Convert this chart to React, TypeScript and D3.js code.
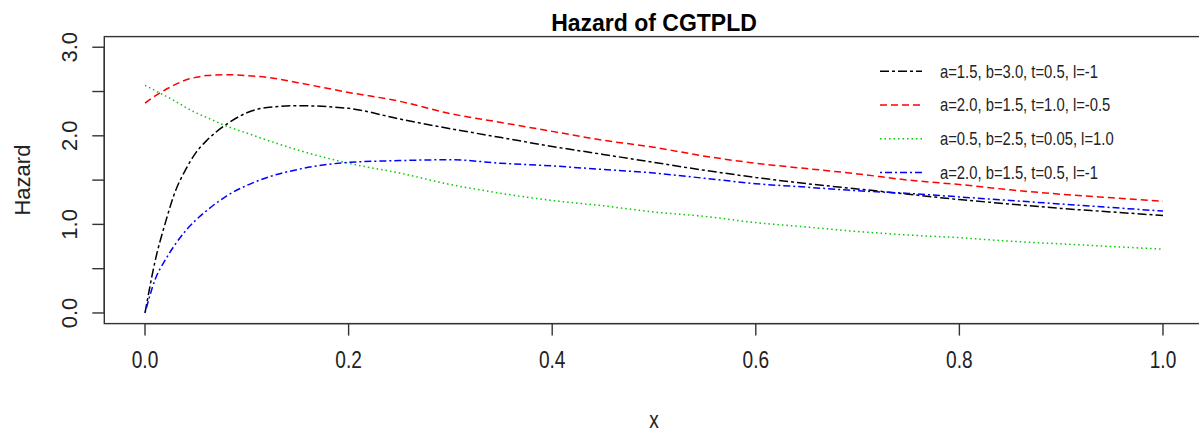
import * as d3 from "d3";
import React from "react";

// hazard curves
const xs = [0, 0.01, 0.02, 0.03, 0.04, 0.05, 0.06, 0.08, 0.1, 0.12, 0.15, 0.2, 0.25, 0.3, 0.35, 0.4, 0.45, 0.5, 0.55, 0.6, 0.65, 0.7, 0.75, 0.8, 0.85, 0.9, 0.95, 1.0];
const blackVals = [0, 0.59, 1.02, 1.38, 1.62, 1.81, 1.94, 2.13, 2.26, 2.32, 2.34, 2.31, 2.19, 2.08, 1.98, 1.88, 1.79, 1.7, 1.61, 1.53, 1.46, 1.4, 1.34, 1.28, 1.23, 1.18, 1.14, 1.1];
const redVals = [2.37, 2.45, 2.52, 2.58, 2.63, 2.66, 2.68, 2.69, 2.68, 2.66, 2.6, 2.49, 2.39, 2.25, 2.15, 2.05, 1.95, 1.87, 1.77, 1.69, 1.63, 1.57, 1.5, 1.45, 1.39, 1.34, 1.3, 1.26];
const greenVals = [2.57, 2.51, 2.45, 2.39, 2.32, 2.26, 2.21, 2.11, 2.03, 1.95, 1.84, 1.69, 1.58, 1.45, 1.35, 1.27, 1.21, 1.14, 1.09, 1.02, 0.97, 0.92, 0.88, 0.85, 0.81, 0.78, 0.75, 0.72];
const blueVals = [0, 0.38, 0.6, 0.78, 0.93, 1.05, 1.15, 1.32, 1.44, 1.53, 1.62, 1.7, 1.72, 1.73, 1.69, 1.66, 1.62, 1.58, 1.52, 1.46, 1.42, 1.38, 1.35, 1.31, 1.27, 1.23, 1.19, 1.15];

const seriesLabels = [
  "a=1.5, b=3.0, t=0.5, l=-1",
  "a=2.0, b=1.5, t=1.0, l=-0.5",
  "a=0.5, b=2.5, t=0.05, l=1.0",
  "a=2.0, b=1.5, t=0.5, l=-1",
];
const seriesColors = ["#000000", "#ff0000", "#00cc00", "#0000ff"];
const seriesDash = ["9,3,3,3", "7,4", "1.5,3", "2,3,7,3"];

const xTicks = [0, 0.2, 0.4, 0.6, 0.8, 1.0];
const yTicks = [0, 0.5, 1, 1.5, 2, 2.5, 3];
const yLabelTicks = [0, 1, 2, 3];

export default function App() {
  const width = 1199;
  const height = 432;
  // R style: 4% padding on both axes
  const x = d3.scaleLinear().domain([-0.04, 1.04]).range([104.3, 1203.7]);
  const y = d3.scaleLinear().domain([-0.12, 3.12]).range([323.6, 36.6]);

  const all = [blackVals, redVals, greenVals, blueVals];
  const line = d3.line<number>()
    .x((_, i) => x(xs[i]))
    .y(d => y(d))
    .curve(d3.curveMonotoneX);

  const font = "'Liberation Sans', Arial, sans-serif";
  const axisColor = "#333";
  const plotTop = y(3.12);
  const plotBottom = y(-0.12);
  const plotLeft = x(-0.04);

  return (
    <svg width={width} height={height} style={{ position: "absolute", left: 0, top: 0, background: "#fff" }} fontFamily={font}>
      {/* box */}
      <rect x={plotLeft} y={plotTop} width={x(1.04) - plotLeft} height={plotBottom - plotTop}
        fill="none" stroke={axisColor} strokeWidth={1.4} />

      {/* curves */}
      {all.map((vals, k) => (
        <path key={k} d={line(vals) || ""} fill="none" stroke={seriesColors[k]}
          strokeWidth={1.5} strokeDasharray={seriesDash[k]} />
      ))}

      {/* x axis */}
      <line x1={x(0)} x2={x(1)} y1={plotBottom} y2={plotBottom} stroke={axisColor} strokeWidth={1.4} />
      {xTicks.map(t => (
        <g key={t}>
          <line x1={x(t)} x2={x(t)} y1={plotBottom} y2={plotBottom + 12} stroke={axisColor} strokeWidth={1.4} />
          <text transform={`translate(${x(t)},${368}) scale(0.83,1)`} textAnchor="middle" fontSize={23} fill="#222">
            {t.toFixed(1)}
          </text>
        </g>
      ))}

      {/* y axis */}
      <line x1={plotLeft} x2={plotLeft} y1={y(0)} y2={y(3)} stroke={axisColor} strokeWidth={1.4} />
      {yTicks.map(t => (
        <line key={t} x1={plotLeft - 12} x2={plotLeft} y1={y(t)} y2={y(t)} stroke={axisColor} strokeWidth={1.4} />
      ))}
      {yLabelTicks.map(t => (
        <text key={t} transform={`translate(${77},${y(t)}) rotate(-90)`} textAnchor="middle" fontSize={22} fill="#222">
          {t.toFixed(1)}
        </text>
      ))}

      {/* axis titles */}
      <text transform={`translate(${(plotLeft + x(1.04)) / 2},${428}) scale(0.83,1)`} textAnchor="middle" fontSize={23} fill="#222">x</text>
      <text transform={`translate(${30},${(plotTop + plotBottom) / 2}) rotate(-90)`} textAnchor="middle" fontSize={22} fill="#222">Hazard</text>

      {/* title */}
      <text x={(plotLeft + x(1.04)) / 2} y={31} textAnchor="middle" fontSize={23} fontWeight="bold" fill="#000">
        Hazard of CGTPLD
      </text>

      {/* legend */}
      {seriesLabels.map((lab, k) => {
        const ly = 72.7 + k * 33.8;
        return (
          <g key={k}>
            <line x1={880} x2={922} y1={ly - 1.5} y2={ly - 1.5} stroke={seriesColors[k]} strokeWidth={1.5}
              strokeDasharray={seriesDash[k]} />
            <text transform={`translate(940,${ly}) scale(0.8,1)`} fontSize={18.5} dominantBaseline="middle" fill="#222">
              {lab}
            </text>
          </g>
        );
      })}
    </svg>
  );
}
